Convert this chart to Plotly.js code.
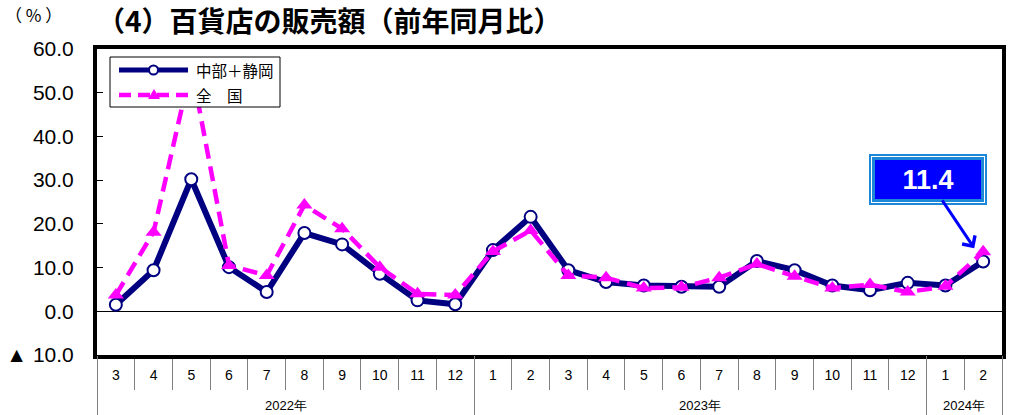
<!DOCTYPE html>
<html>
<head>
<meta charset="utf-8">
<script src="https://cdn.plot.ly/plotly-3.0.1.min.js"></script>
<style>
html,body{margin:0;padding:0;background:#fff;}
#chart{width:1009px;height:415px;}
</style>
</head>
<body>
<div id="chart"></div>
<script>
// ---- data ----
const years = [2022,2022,2022,2022,2022,2022,2022,2022,2022,2022,
               2023,2023,2023,2023,2023,2023,2023,2023,2023,2023,2023,2023,
               2024,2024];
const months = [3,4,5,6,7,8,9,10,11,12,1,2,3,4,5,6,7,8,9,10,11,12,1,2];
const chubuShizuoka = [1.5,9.4,30.2,10.1,4.4,17.9,15.3,8.6,2.5,1.6,
                       14.0,21.6,9.4,6.7,5.9,5.6,5.6,11.5,9.4,5.9,4.8,6.5,
                       5.9,11.4];
const zenkoku = [3.7,18.1,56.0,10.5,8.2,24.3,18.9,10.1,4.0,3.7,
                 13.7,18.5,8.2,7.7,5.3,5.5,7.7,10.8,8.0,5.3,6.1,4.4,
                 5.7,13.6];
const seriesNames = ['中部＋静岡','全　国'];
const yTickVals = [-10,0,10,20,30,40,50,60];
const yTickText = ['▲ 10.0','0.0','10.0','20.0','30.0','40.0','50.0','60.0'];
const yearLabels = ['2022年','2023年','2024年'];

// ---- layout helpers ----
const L=97, R=1002, T=49, B=355;
const px = x => (x-L)/(R-L);
const py = y => (B-y)/(B-T);
const YMIN=-10, YMAX=60;

const cats = years.map((y,i)=> y+'-'+months[i]);
const n = cats.length;

const NAVY='#000080', MAG='#FF00FF';

const traces = [
  {x:cats, y:chubuShizuoka, name:seriesNames[0], type:'scatter', mode:'lines+markers',
   line:{color:NAVY,width:6},
   marker:{symbol:'circle',size:12,color:'#fff',line:{color:NAVY,width:2}},
   cliponaxis:true, hoverinfo:'skip'},
  {x:cats, y:zenkoku, name:seriesNames[1], type:'scatter', mode:'lines+markers',
   line:{color:MAG,width:4.5,dash:'15px,8px'},
   marker:{symbol:'triangle-up',size:14,color:MAG},
   cliponaxis:true, hoverinfo:'skip'}
];

// boundaries for separator ticks
const bounds=[]; for(let i=0;i<n-1;i++) bounds.push(i+0.5);
// year boundaries
const yearBounds=[-0.5];
for(let i=1;i<n;i++){ if(years[i]!==years[i-1]) yearBounds.push(i-0.5); }
yearBounds.push(n-0.5);

const annotations=[];
// year labels
const uniqYears=[...new Set(years)];
uniqYears.forEach((yr,k)=>{
  const idx=years.map((v,i)=>v===yr?i:-1).filter(i=>i>=0);
  const c=(idx[0]+idx[idx.length-1])/2;
  annotations.push({xref:'x3',yref:'paper',x:c,y:py(405),text:yearLabels[k],showarrow:false,
    font:{family:'Liberation Sans, Arial, sans-serif',size:13,color:'#000'},xanchor:'center',yanchor:'middle'});
});
// (%) label
annotations.push({xref:'paper',yref:'paper',x:px(33),y:py(15),text:'（ % ）',showarrow:false,
  font:{family:'Noto Sans CJK JP, sans-serif',size:17,color:'#000'},xanchor:'center',yanchor:'middle'});
// legend texts
annotations.push({xref:'paper',yref:'paper',x:px(194),y:py(70),text:seriesNames[0],showarrow:false,
  font:{family:'Noto Sans CJK JP, sans-serif',size:15.5,color:'#000'},xanchor:'left',yanchor:'middle'});
annotations.push({xref:'paper',yref:'paper',x:px(194),y:py(95),text:seriesNames[1],showarrow:false,
  font:{family:'Noto Sans CJK JP, sans-serif',size:15.5,color:'#000'},xanchor:'left',yanchor:'middle'});
// callout for the latest value
const last=n-1;
const lastVal=chubuShizuoka[last];
annotations.push({xref:'x',yref:'y',x:cats[last],y:lastVal,text:'',showarrow:true,
  ax:-55,ay:-82,arrowcolor:'rgba(0,0,0,0)',width:114,height:47,bgcolor:'#fff',
  bordercolor:'#1E88D8',borderwidth:2,borderpad:0});
annotations.push({xref:'x',yref:'y',x:cats[last],y:lastVal,text:'<b>'+lastVal.toFixed(1)+'</b>',showarrow:true,
  ax:-55,ay:-82,arrowcolor:'#0000FF',arrowwidth:3,arrowhead:4,arrowsize:1,standoff:16,
  width:106,height:39,bgcolor:'#0000FF',bordercolor:'#1E88D8',borderwidth:3,borderpad:0,
  font:{family:'Liberation Sans, Arial, sans-serif',size:27,color:'#fff'}});

// custom legend shapes
const shapes=[
  {type:'rect',xref:'paper',yref:'paper',x0:px(110),x1:px(280),y0:py(107),y1:py(57),
   fillcolor:'#fff',line:{color:'#000',width:1},layer:'above'},
  {type:'line',xref:'paper',yref:'paper',x0:px(119),x1:px(188),y0:py(70),y1:py(70),
   line:{color:NAVY,width:5},layer:'above'},
  {type:'circle',xref:'paper',yref:'paper',x0:px(149),x1:px(158),y0:py(74.5),y1:py(65.5),
   fillcolor:'#fff',line:{color:NAVY,width:2},layer:'above'},
  {type:'line',xref:'paper',yref:'paper',x0:px(119),x1:px(188),y0:py(95),y1:py(95),
   line:{color:MAG,width:4.5,dash:'12px,7px'},layer:'above'},
  {type:'path',xref:'paper',yref:'paper',
   path:`M${px(148)},${py(99)} L${px(160)},${py(99)} L${px(154)},${py(89)} Z`,
   fillcolor:MAG,line:{color:MAG,width:0},layer:'above'}
];

const layout={
  width:1009,height:415,
  margin:{l:L,r:1009-R,t:T,b:415-B,pad:0},
  paper_bgcolor:'#fff',plot_bgcolor:'#fff',
  showlegend:false,
  title:{text:'（4）百貨店の販売額（前年同月比）',x:px(97),xref:'paper',xanchor:'left',
    y:1-22/415,yref:'container',yanchor:'middle',
    font:{family:'Noto Sans CJK JP, sans-serif',size:28,color:'#000',weight:'bold'}},
  xaxis:{type:'category',range:[-0.5,n-0.5],tickmode:'array',tickvals:cats,ticktext:months.map(String),
    ticks:'outside',tickson:'boundaries',ticklen:31,tickcolor:'#808080',tickwidth:1,
    ticklabelstandoff:4,
    showline:true,linecolor:'#000',linewidth:4,mirror:true,showgrid:false,zeroline:false,
    tickfont:{family:'Liberation Sans, Arial, sans-serif',size:14,color:'#000'},fixedrange:true},
  xaxis2:{type:'linear',overlaying:'x',anchor:'free',position:(0-YMIN)/(YMAX-YMIN),
    range:[-0.5,n-0.5],tickmode:'array',tickvals:bounds,ticks:'inside',ticklen:5,tickcolor:'#000',tickwidth:1,
    showticklabels:false,showline:false,showgrid:false,zeroline:false,fixedrange:true},
  xaxis3:{type:'linear',overlaying:'x',anchor:'y',side:'bottom',
    range:[-0.5,n-0.5],tickmode:'array',tickvals:yearBounds,ticks:'outside',ticklen:62,tickcolor:'#808080',tickwidth:1,
    showticklabels:false,showline:false,showgrid:false,zeroline:false,fixedrange:true},
  yaxis:{range:[YMIN,YMAX],tickmode:'array',tickvals:yTickVals,ticktext:yTickText,
    ticks:'inside',ticklen:6,tickcolor:'#000',tickwidth:1,ticklabelstandoff:15,
    showline:true,linecolor:'#000',linewidth:4,mirror:true,showgrid:false,
    zeroline:true,zerolinecolor:'#000',zerolinewidth:1.5,
    tickfont:{family:'Liberation Sans, Arial, sans-serif',size:21,color:'#000'},fixedrange:true},
  annotations:annotations,
  shapes:shapes
};

Plotly.newPlot('chart',traces,layout,{displayModeBar:false,staticPlot:true});
</script>
</body>
</html>
